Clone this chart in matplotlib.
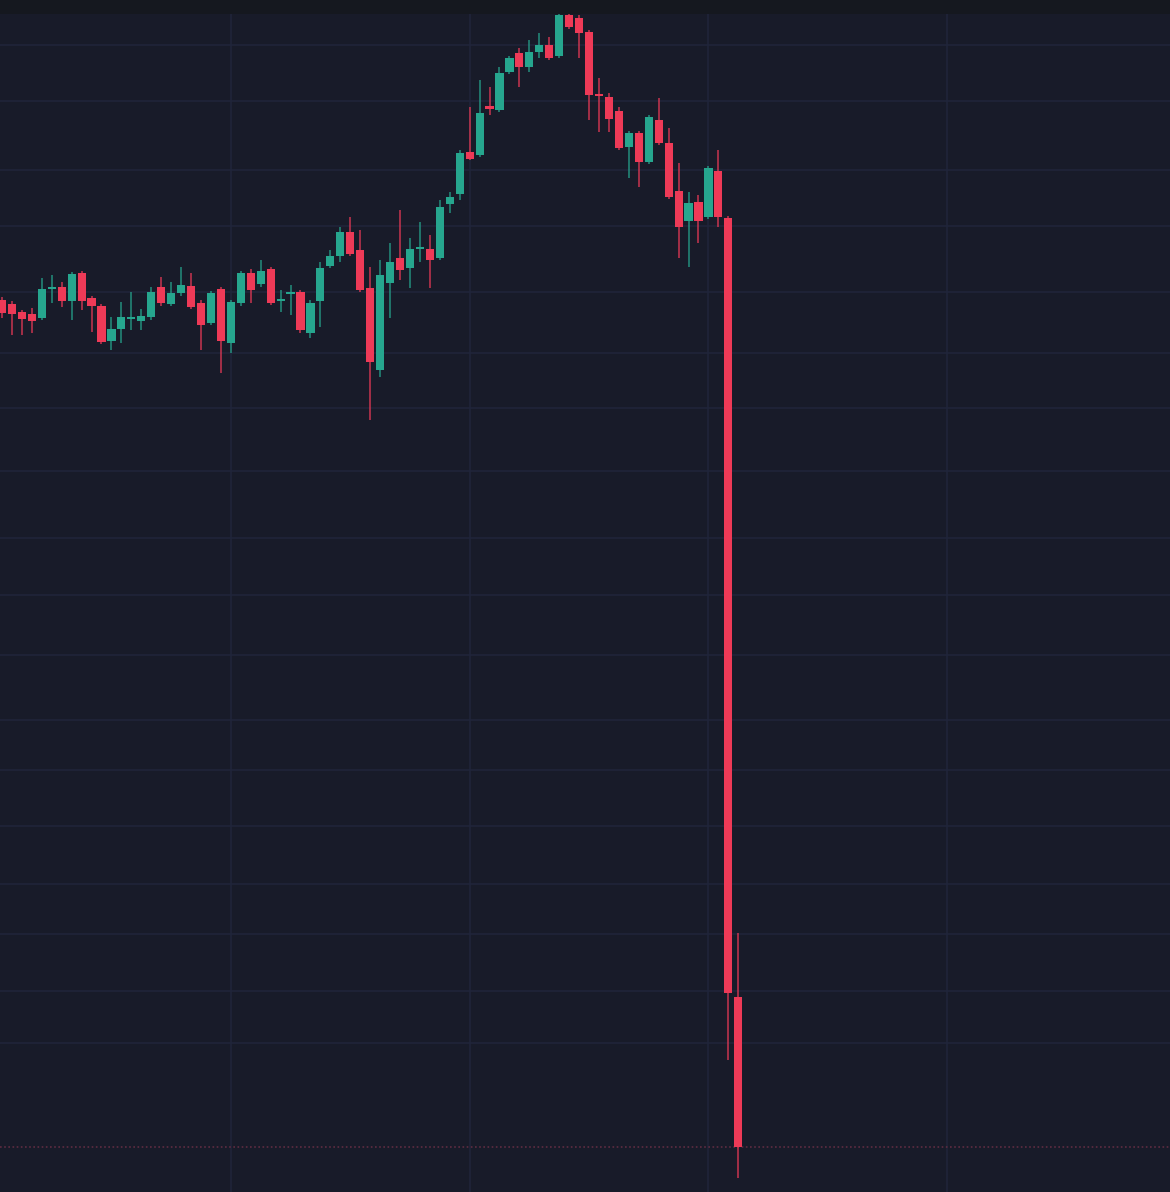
import matplotlib
matplotlib.use("Agg")
import matplotlib.pyplot as plt
import numpy as np

# OHLC data (price units)
opens = [89.2, 88.8, 88.0, 87.8, 87.4, 90.3, 90.5, 89.1, 91.9, 89.4,
         88.6, 85.1, 86.3, 87.3, 87.1, 87.5, 90.5, 88.8, 89.9, 90.6,
         88.9, 86.9, 90.3, 84.9, 88.9, 91.9, 90.8, 92.3, 89.1, 89.8,
         90.0, 85.9, 89.1, 92.6, 93.6, 96.0, 94.2, 90.4, 82.2, 90.9,
         93.4, 92.4, 94.3, 94.3, 93.4, 98.8, 99.8, 104.0, 103.7, 108.6,
         108.2, 112.0, 113.9, 112.5, 114.0, 114.7, 113.6, 117.7, 117.4, 116.0,
         109.7, 109.5, 108.1, 104.5, 105.9, 103.0, 107.2, 104.9, 100.1, 97.1,
         99.0, 97.5, 102.1, 97.4, 19.5]
closes = [87.9, 87.8, 87.3, 87.1, 90.3, 90.4, 89.1, 91.8, 89.1, 88.6,
          85.0, 86.3, 87.5, 87.4, 87.6, 90.0, 88.9, 89.9, 90.7, 88.5,
          86.7, 89.9, 85.1, 89.0, 91.9, 90.2, 92.1, 88.9, 89.3, 89.9,
          86.2, 88.9, 92.4, 93.6, 96.0, 93.8, 90.2, 83.0, 91.7, 93.0,
          92.2, 94.3, 94.4, 93.2, 98.5, 99.5, 103.9, 103.3, 107.9, 108.3,
          111.9, 113.4, 112.5, 114.0, 114.7, 113.4, 117.7, 116.5, 115.9, 109.7,
          109.6, 107.3, 104.4, 105.9, 103.0, 107.5, 104.9, 99.5, 96.5, 98.9,
          97.1, 102.4, 97.5, 19.9, 4.5]
highs = [89.5, 89.1, 88.2, 88.4, 91.4, 91.7, 91.0, 92.0, 92.1, 89.6,
         88.8, 87.5, 89.0, 90.0, 88.3, 90.5, 91.5, 91.0, 92.5, 91.9,
         89.2, 90.1, 90.5, 89.2, 92.1, 92.3, 93.2, 92.5, 90.2, 90.7,
         90.2, 89.2, 93.0, 94.2, 96.5, 97.5, 96.2, 92.5, 93.2, 94.9,
         98.2, 95.4, 97.0, 95.7, 99.2, 100.0, 104.2, 108.5, 111.2, 110.5,
         112.5, 113.6, 114.4, 115.2, 115.9, 115.5, 117.9, 117.9, 117.7, 116.2,
         111.4, 109.9, 108.5, 106.1, 106.1, 107.7, 109.4, 106.4, 102.9, 100.0,
         99.7, 102.6, 104.2, 97.6, 25.9]
lows = [87.4, 85.7, 85.7, 85.9, 87.2, 88.9, 88.5, 87.2, 88.2, 86.0,
        84.8, 84.2, 84.9, 86.2, 86.2, 87.2, 88.6, 88.6, 89.6, 88.3,
        84.2, 86.7, 81.9, 83.9, 88.6, 88.9, 90.5, 88.7, 88.0, 87.7,
        85.9, 85.4, 86.5, 92.4, 93.0, 93.6, 90.0, 77.2, 81.5, 87.4,
        91.2, 90.4, 93.0, 90.4, 93.2, 97.9, 99.2, 103.2, 103.5, 107.7,
        108.0, 111.8, 110.5, 112.0, 113.4, 113.2, 113.4, 116.3, 113.4, 107.2,
        106.0, 106.0, 104.2, 101.4, 100.5, 102.8, 104.7, 99.3, 93.4, 92.5,
        94.9, 97.3, 96.5, 13.2, 1.4]

grid_prices = [114.7, 109.1, 102.2, 96.6, 90.0, 83.9, 78.4, 72.1, 65.4, 59.7,
               53.7, 47.2, 42.2, 36.6, 30.8, 25.8, 20.1, 14.9]
grid_bars = [23, 47, 71, 95]

BG = "#181b29"
TOP = "#15181f"
GRID = "#20253a"
UP = "#26a68e"
DOWN = "#ee3a57"

W, H = 1170, 1192
fig = plt.figure(figsize=(W / 100, H / 100), dpi=100, facecolor=TOP)
top_band = 14
ax = fig.add_axes([0, 0, 1, (H - top_band) / H])
ax.set_facecolor(BG)

o = np.array(opens); c = np.array(closes)
h = np.array(highs); l = np.array(lows)
x = np.arange(len(o))
up = c >= o
colors = np.where(up, UP, DOWN)

for gy in grid_prices:
    ax.axhline(gy, color=GRID, lw=1.1, zorder=0)
for gx in grid_bars:
    ax.axvline(gx, color=GRID, lw=1.1, zorder=0)

ax.vlines(x, l, h, colors=colors, lw=1.3, alpha=0.7, zorder=2)
bottoms = np.minimum(o, c)
heights = np.maximum(np.abs(c - o), 0.25)
ax.bar(x, heights, bottom=bottoms, width=0.82, color=colors, edgecolor="none", zorder=3)

# last price dotted line
ax.axhline(closes[-1], color="#5e2c42", lw=1.2, ls=(0, (1, 1.5)), zorder=1)

ax.set_xlim(-0.2, (W - 2) / 9.95)
ax.set_ylim(0, (H - top_band) / 10)
for s in ax.spines.values():
    s.set_visible(False)
ax.set_xticks([]); ax.set_yticks([])

fig.savefig("out.png", dpi=100, facecolor=TOP)
